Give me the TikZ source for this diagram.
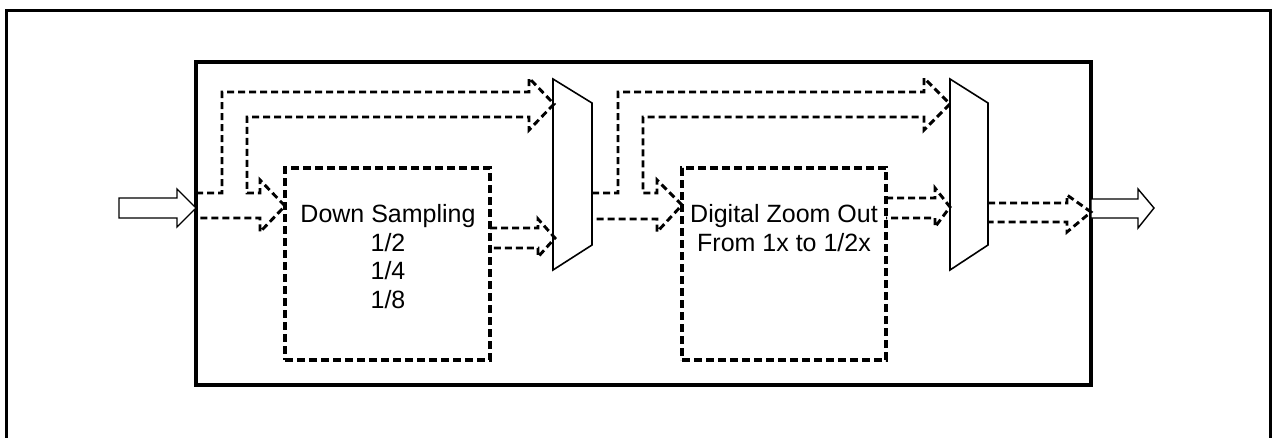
\documentclass[tikz,border=0pt]{standalone}
\usepackage{fontspec}
\setmainfont{Liberation Sans}
\begin{document}
\begin{tikzpicture}[x=1pt,y=-1pt,
  frame/.style={line width=3pt},
  mainbox/.style={line width=4pt},
  dbox/.style={draw, dash pattern=on 8pt off 4pt, line width=3.2pt, inner sep=0pt},
  bus/.style={dash pattern=on 7pt off 4pt, line width=2.9pt, line join=miter},
  muxs/.style={line width=1.6pt, line join=miter},
  blockarrow/.style={line width=1.4pt, fill=white, line join=miter},
  lbl/.style={anchor=base, inner sep=0pt, font=\fontsize{25}{29}\selectfont}
]
\useasboundingbox (0,0) rectangle (1272,437);
\clip (0,0) rectangle (1272,437);

% outer frame (bottom edge lies outside the picture)
\draw[frame] (6,445) -- (6,10) -- (1270,10) -- (1270,445);
% main block
\draw[mainbox] (196,62) rectangle (1091,385);

% processing boxes
\node[dbox, minimum width=205pt, minimum height=192pt] (ds) at (387.5,264) {};
\node[dbox, minimum width=204pt, minimum height=192pt] (dz) at (784,264) {};

\node[lbl] (ds1) at (388,222) {Down Sampling};
\node[lbl] (ds2) at (388,251) {1/2};
\node[lbl] (ds3) at (388,279.5) {1/4};
\node[lbl] (ds4) at (388,308) {1/8};
\node[lbl] (dz1) at (784,222) {Digital Zoom Out};
\node[lbl] (dz2) at (784,251) {From 1x to 1/2x};

% multiplexers
\coordinate (m1a) at (553,79);  \coordinate (m1b) at (592,103);
\coordinate (m1c) at (592,245); \coordinate (m1d) at (553,270);
\coordinate (m2a) at (950,79);  \coordinate (m2b) at (988,103);
\coordinate (m2c) at (988,245); \coordinate (m2d) at (950,270);
\draw[muxs] (m1a) -- (m1b) -- (m1c) -- (m1d) -- cycle;
\draw[muxs] (m2a) -- (m2b) -- (m2c) -- (m2d) -- cycle;

% input / output block arrows
\draw[blockarrow] (119,198) -- (177,198) -- (177,189) -- (196,208) -- (177,227) -- (177,218) -- (119,218) -- cycle;
\draw[blockarrow] (1091,199) -- (1138,199) -- (1138,189) -- (1154,208) -- (1138,228) -- (1138,218) -- (1091,218) -- cycle;

% bus: input -> mux1 (top) and -> down sampling
\draw[bus] (196,193) -- (222,193) -- (222,92) -- (529,92) -- (529,78) -- (554,104)
  -- (529,130) -- (529,117) -- (247,117) -- (247,193) -- (260,193) -- (260,180)
  -- (285,206) -- (260,232) -- (260,218) -- (196,218);
% down sampling -> mux1
\draw[bus] (490,228) -- (538,228) -- (538,219) -- (555,238) -- (538,257) -- (538,248) -- (490,248);

% bus: mux1 -> mux2 (top) and -> digital zoom
\draw[bus] (592,193) -- (618,193) -- (618,92) -- (924,92) -- (924,78) -- (950,104)
  -- (924,130) -- (924,117) -- (643,117) -- (643,193) -- (657,193) -- (657,180)
  -- (682,205) -- (657,232) -- (657,219) -- (592,219);
% digital zoom -> mux2
\draw[bus] (886,198) -- (935,198) -- (935,188) -- (950,207) -- (935,227) -- (935,218) -- (886,218);

% mux2 -> output
\draw[bus] (988,203) -- (1067,203) -- (1067,195) -- (1091,212) -- (1067,232) -- (1067,222) -- (988,222);
\end{tikzpicture}
\end{document}
